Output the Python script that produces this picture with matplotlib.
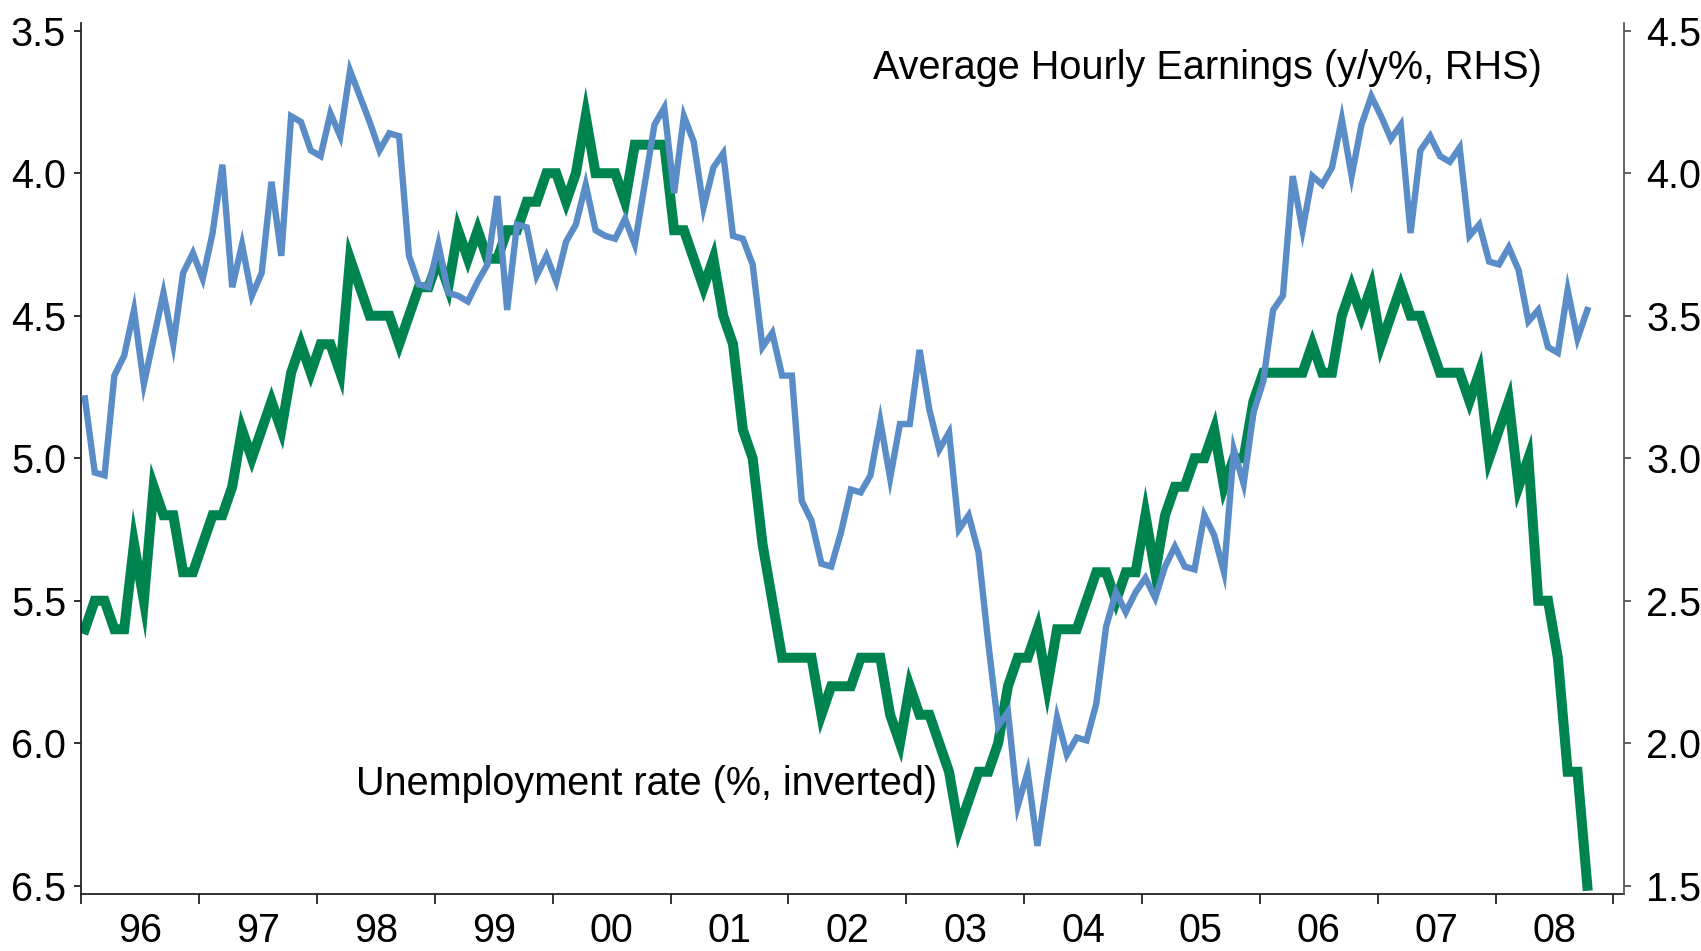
import numpy as np
import matplotlib.pyplot as plt
from matplotlib.ticker import FixedLocator, NullFormatter

plt.rcParams["font.family"] = ["Liberation Sans", "DejaVu Sans"]

# monthly, Jan 1996 .. Oct 2008
unemployment = [
    5.6, 5.5, 5.5, 5.6, 5.6, 5.3, 5.5, 5.1, 5.2, 5.2, 5.4, 5.4,   # 96
    5.3, 5.2, 5.2, 5.1, 4.9, 5.0, 4.9, 4.8, 4.9, 4.7, 4.6, 4.7,   # 97
    4.6, 4.6, 4.7, 4.3, 4.4, 4.5, 4.5, 4.5, 4.6, 4.5, 4.4, 4.4,   # 98
    4.3, 4.4, 4.2, 4.3, 4.2, 4.3, 4.3, 4.2, 4.2, 4.1, 4.1, 4.0,   # 99
    4.0, 4.1, 4.0, 3.8, 4.0, 4.0, 4.0, 4.1, 3.9, 3.9, 3.9, 3.9,   # 00
    4.2, 4.2, 4.3, 4.4, 4.3, 4.5, 4.6, 4.9, 5.0, 5.3, 5.5, 5.7,   # 01
    5.7, 5.7, 5.7, 5.9, 5.8, 5.8, 5.8, 5.7, 5.7, 5.7, 5.9, 6.0,   # 02
    5.8, 5.9, 5.9, 6.0, 6.1, 6.3, 6.2, 6.1, 6.1, 6.0, 5.8, 5.7,   # 03
    5.7, 5.6, 5.8, 5.6, 5.6, 5.6, 5.5, 5.4, 5.4, 5.5, 5.4, 5.4,   # 04
    5.2, 5.4, 5.2, 5.1, 5.1, 5.0, 5.0, 4.9, 5.1, 5.0, 5.0, 4.8,   # 05
    4.7, 4.7, 4.7, 4.7, 4.7, 4.6, 4.7, 4.7, 4.5, 4.4, 4.5, 4.4,   # 06
    4.6, 4.5, 4.4, 4.5, 4.5, 4.6, 4.7, 4.7, 4.7, 4.8, 4.7, 5.0,   # 07
    4.9, 4.8, 5.1, 5.0, 5.5, 5.5, 5.7, 6.1, 6.1, 6.5,             # 08
]

ahe_yoy = [
    3.21, 2.95, 2.94, 3.29, 3.36, 3.52, 3.26, 3.42, 3.58, 3.40, 3.65, 3.72,
    3.63, 3.79, 4.03, 3.60, 3.75, 3.57, 3.65, 3.97, 3.71, 4.20, 4.18, 4.08,
    4.06, 4.21, 4.13, 4.36, 4.27, 4.18, 4.08, 4.14, 4.13, 3.71, 3.61, 3.60,
    3.75, 3.58, 3.57, 3.55, 3.62, 3.68, 3.92, 3.52, 3.82, 3.81, 3.64, 3.71,
    3.62, 3.76, 3.82, 3.96, 3.80, 3.78, 3.77, 3.84, 3.75, 3.96, 4.17, 4.23,
    3.93, 4.20, 4.11, 3.88, 4.02, 4.07, 3.78, 3.77, 3.68, 3.39, 3.44, 3.29,
    3.29, 2.85, 2.78, 2.63, 2.62, 2.74, 2.89, 2.88, 2.94, 3.13, 2.93, 3.12,
    3.12, 3.38, 3.17, 3.03, 3.09, 2.75, 2.80, 2.67, 2.35, 2.06, 2.11, 1.78,
    1.90, 1.64, 1.87, 2.09, 1.96, 2.02, 2.01, 2.14, 2.41, 2.53, 2.46, 2.53,
    2.58, 2.51, 2.62, 2.69, 2.62, 2.61, 2.80, 2.73, 2.60, 3.03, 2.91, 3.16,
    3.27, 3.52, 3.57, 3.99, 3.80, 3.99, 3.96, 4.02, 4.19, 3.99, 4.17, 4.27,
    4.20, 4.12, 4.17, 3.79, 4.08, 4.13, 4.06, 4.04, 4.09, 3.78, 3.82, 3.69,
    3.68, 3.74, 3.66, 3.48, 3.52, 3.39, 3.37, 3.59, 3.42, 3.52,
]

years = list(range(1996, 2009))
year_labels = ["96", "97", "98", "99", "00", "01", "02", "03", "04", "05", "06", "07", "08"]

GREEN = "#00844f"
BLUE = "#5a8dc8"
FS = 28.5

n = len(unemployment)
t = 1996 + (np.arange(n) + 0.35) / 12.0

fig = plt.figure(figsize=(17.01, 9.51), dpi=100)
ax = fig.add_axes([0.0479, 0.0599, 0.9068, 0.9156])
ax2 = ax.twinx()

ax.plot(t, unemployment, color=GREEN, lw=7.2, solid_joinstyle="miter", zorder=2)
ax2.plot(t, ahe_yoy, color=BLUE, lw=4.6, solid_joinstyle="miter", zorder=3)

# left axis inverted, right axis normal: 3.5<->4.5 ... 6.5<->1.5
ax.set_ylim(6.529, 3.474)
ax2.set_ylim(8 - 6.529, 8 - 3.474)
ax.set_xlim(1996.0, 2009.09)

ax.set_yticks([3.5, 4.0, 4.5, 5.0, 5.5, 6.0, 6.5])
ax.set_yticklabels(["3.5", "4.0", "4.5", "5.0", "5.5", "6.0", "6.5"])
ax2.set_yticks([1.5, 2.0, 2.5, 3.0, 3.5, 4.0, 4.5])
ax2.set_yticklabels(["1.5", "2.0", "2.5", "3.0", "3.5", "4.0", "4.5"])

# year boundaries as ticks, labels centred in each year
ax.xaxis.set_major_locator(FixedLocator(years + [2009]))
ax.xaxis.set_major_formatter(NullFormatter())
ax.xaxis.set_minor_locator(FixedLocator([y + 0.5 for y in years]))
ax.set_xticklabels(year_labels, minor=True)

ax.tick_params(axis="x", which="major", direction="out", length=7, width=1.3, color="#222222")
ax.tick_params(axis="x", which="minor", length=0, pad=13, labelsize=FS)
ax.tick_params(axis="y", direction="out", length=5, width=1.3, pad=6, labelsize=FS, color="#222222")
ax2.tick_params(axis="y", direction="out", length=5, width=1.3, pad=11, labelsize=FS, color="#555555")

for a in (ax, ax2):
    a.spines["top"].set_visible(False)
ax.spines["right"].set_visible(False)
ax2.spines["left"].set_visible(False)
ax2.spines["bottom"].set_visible(False)
ax.spines["left"].set_color("#222222")
ax.spines["bottom"].set_color("#222222")
ax2.spines["right"].set_color("#555555")
for s in ("left", "bottom"):
    ax.spines[s].set_linewidth(1.3)
ax2.spines["right"].set_linewidth(1.3)

ax.text(0.513, 0.936, "Average Hourly Earnings (y/y%, RHS)", transform=ax.transAxes,
        fontsize=FS, va="baseline", ha="left")
ax.text(0.178, 0.1137, "Unemployment rate (%, inverted)", transform=ax.transAxes,
        fontsize=FS, va="baseline", ha="left")

fig.savefig("out.png", dpi=100)
